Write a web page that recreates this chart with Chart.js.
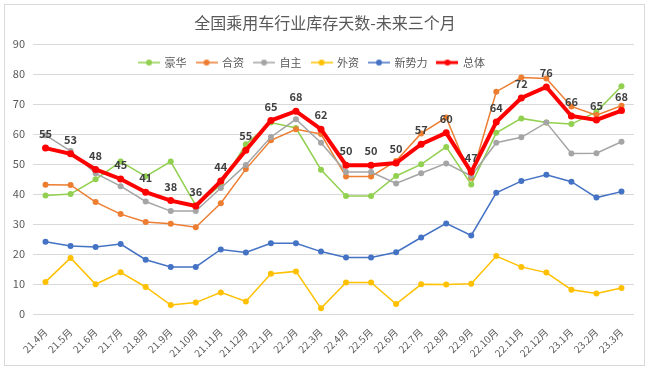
<!DOCTYPE html>
<html>
<head>
<meta charset="utf-8">
<script src="https://cdn.jsdelivr.net/npm/chart.js@4"></script>
<style>
    body { margin: 0; background: #fff; }
    #wrap { position: relative; width: 650px; height: 371px; }
    #frame {
        position: absolute; left: 4px; top: 4px; width: 639px; height: 360px;
        border: 1px solid #d9d9d9; pointer-events: none;
    }
</style>
</head>
<body>
<div id="wrap">
    <canvas id="chart" width="650" height="371"></canvas>
    <div id="frame"></div>
</div>
<script>
const months = ['21.4月', '21.5月', '21.6月', '21.7月', '21.8月', '21.9月', '21.10月', '21.11月', '21.12月',
    '22.1月', '22.2月', '22.3月', '22.4月', '22.5月', '22.6月', '22.7月', '22.8月', '22.9月', '22.10月',
    '22.11月', '22.12月', '23.1月', '23.2月', '23.3月'];

const luxury = [39.5, 40.0, 44.9, 50.8, 45.9, 50.8, 36.2, 43.0, 56.6, 63.8, 62.0, 48.1,
    39.3, 39.3, 46.0, 49.9, 55.7, 43.2, 60.4, 65.2, 63.8, 63.3, 67.4, 75.9];
const jointVenture = [43.1, 43.0, 37.3, 33.3, 30.7, 30.1, 28.9, 36.9, 48.3, 57.9, 61.6, 60.0,
    45.8, 45.8, 51.0, 60.2, 65.5, 45.4, 74.1, 78.8, 78.5, 69.2, 66.3, 69.4];
const domestic = [59.6, 54.3, 46.9, 42.6, 37.5, 34.3, 34.3, 42.0, 49.7, 59.0, 64.9, 57.1,
    47.3, 47.3, 43.5, 46.9, 50.2, 46.0, 57.1, 58.9, 63.8, 53.5, 53.6, 57.4];
const foreign = [10.7, 18.7, 9.9, 13.9, 9.0, 3.0, 3.8, 7.2, 4.2, 13.4, 14.2, 1.9,
    10.5, 10.5, 3.3, 9.9, 9.8, 10.1, 19.3, 15.7, 13.8, 8.1, 6.8, 8.7];
const newForces = [24.1, 22.7, 22.3, 23.3, 18.1, 15.7, 15.7, 21.5, 20.5, 23.6, 23.6, 20.8,
    18.8, 18.8, 20.6, 25.5, 30.2, 26.2, 40.4, 44.3, 46.4, 44.1, 38.8, 40.8];
const overall = [55.3, 53.4, 48.2, 45.0, 40.6, 37.8, 36.0, 44.3, 54.6, 64.5, 67.6, 61.6,
    49.6, 49.6, 50.3, 56.6, 60.4, 47.3, 64.0, 72.0, 75.7, 66.0, 64.7, 67.8];

const yTicks = [0, 10, 20, 30, 40, 50, 60, 70, 80, 90];

const font = "'Noto Sans CJK SC', 'Noto Sans', sans-serif";
const textColor = '#595959';

const series = [
    { label: '豪华', data: luxury, color: '#92d050', width: 1.5 },
    { label: '合资', data: jointVenture, color: '#ed7d31', width: 1.5 },
    { label: '自主', data: domestic, color: '#a5a5a5', width: 1.5 },
    { label: '外资', data: foreign, color: '#ffc000', width: 1.5 },
    { label: '新势力', data: newForces, color: '#4472c4', width: 1.5 },
    { label: '总体', data: overall, color: '#ff0000', width: 4 }
];

// little line + dot picture for the legend
const legendIcon = (color, width) => {
    const c = document.createElement('canvas');
    c.width = 22;
    c.height = 8;
    const ctx = c.getContext('2d');
    ctx.strokeStyle = color;
    ctx.lineWidth = width > 2 ? 3 : 1.5;
    ctx.beginPath();
    ctx.moveTo(0, 4);
    ctx.lineTo(22, 4);
    ctx.stroke();
    ctx.fillStyle = color;
    ctx.beginPath();
    ctx.arc(11, 4, 3, 0, Math.PI * 2);
    ctx.fill();
    return c;
};

const valueLabels = {
    id: 'valueLabels',
    afterDatasetsDraw(chart) {
        const idx = series.length - 1;
        const meta = chart.getDatasetMeta(idx);
        const ctx = chart.ctx;
        ctx.save();
        ctx.font = `bold 11px ${font}`;
        ctx.fillStyle = '#404040';
        ctx.textAlign = 'center';
        ctx.textBaseline = 'middle';
        meta.data.forEach((pt, i) => {
            ctx.fillText(Math.round(overall[i]), pt.x, pt.y - 14);
        });
        ctx.restore();
    }
};

// title and legend sit a bit off-centre in the original, legend floats inside the plot
const nudgeBoxes = {
    id: 'nudgeBoxes',
    afterLayout(chart) {
        const t = chart.titleBlock;
        let dx = 325 - (t.left + t.right) / 2;
        t.left += dx;
        t.right += dx;
        const lg = chart.legend;
        dx = 312 - (lg.left + lg.right) / 2;
        lg.left += dx;
        lg.right += dx;
        lg.top = chart.chartArea.top + 3;
        lg.bottom = lg.top + 31;
        lg.height = 31;
    }
};

new Chart(document.getElementById('chart'), {
    type: 'line',
    data: {
        labels: months,
        datasets: series.map((s, i) => ({
            label: s.label,
            data: s.data,
            borderColor: s.color,
            backgroundColor: s.color,
            borderWidth: s.width,
            pointRadius: s.width > 2 ? 3.5 : 3,
            pointBorderWidth: 0,
            pointBackgroundColor: s.color,
            tension: 0,
            order: -i
        }))
    },
    options: {
        responsive: false,
        animation: false,
        layout: { padding: { left: 0, right: 16, top: 0, bottom: 0 } },
        plugins: {
            title: {
                display: true,
                text: '全国乘用车行业库存天数-未来三个月',
                color: textColor,
                font: { family: font, size: 16, weight: 'normal' },
                padding: { top: 13, bottom: 11.8 }
            },
            legend: {
                position: 'top',
                maxHeight: 0.01,
                labels: {
                    color: textColor,
                    font: { family: font, size: 11 },
                    usePointStyle: true,
                    pointStyleWidth: 20,
                    padding: 10,
                    generateLabels: chart => chart.data.datasets.map((ds, i) => ({
                        text: ds.label,
                        pointStyle: legendIcon(series[i].color, series[i].width),
                        fillStyle: ds.borderColor,
                        strokeStyle: ds.borderColor,
                        lineWidth: 0,
                        fontColor: textColor,
                        hidden: false,
                        datasetIndex: i
                    }))
                }
            },
            tooltip: { enabled: false }
        },
        scales: {
            x: {
                offset: true,
                grid: { display: false },
                border: { display: false },
                ticks: {
                    color: textColor,
                    font: { family: font, size: 10 },
                    minRotation: 45,
                    maxRotation: 45,
                    autoSkip: false,
                    padding: 4
                },
                afterFit: scale => { scale.height = 57; }
            },
            y: {
                min: yTicks[0],
                max: yTicks[yTicks.length - 1],
                afterBuildTicks: scale => { scale.ticks = yTicks.map(v => ({ value: v })); },
                grid: { color: '#d9d9d9', drawTicks: false },
                border: { display: false },
                ticks: {
                    color: textColor,
                    font: { family: font, size: 11 },
                    padding: 8
                },
                afterFit: scale => { scale.width = 33; }
            }
        }
    },
    plugins: [valueLabels, nudgeBoxes]
});
</script>
</body>
</html>
